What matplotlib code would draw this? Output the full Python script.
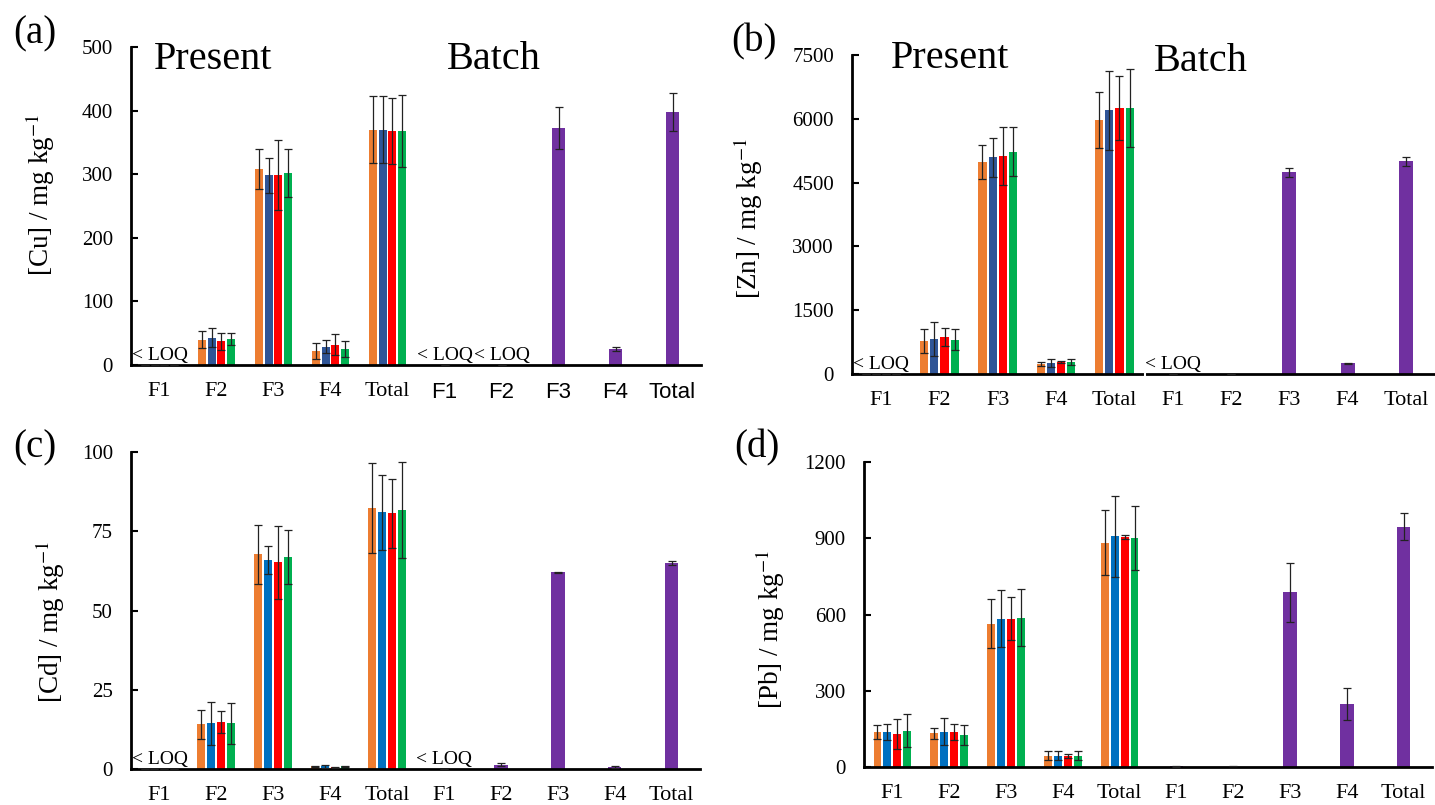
import numpy as np
import matplotlib.pyplot as plt

plt.rcParams['font.family'] = ['Liberation Serif', 'DejaVu Serif']
plt.rcParams['mathtext.fontset'] = 'stix'

# Categorias
categories = ['F1', 'F2', 'F3', 'F4', 'Total']

# Cores das séries (Present) e do Batch
colors_ab = ['#ED7D31', '#2F5597', '#FF0000', '#00B050']
colors_cd = ['#ED7D31', '#0070C0', '#FF0000', '#00B050']
batch_color = '#7030A0'

# --- (a) Cu ---
cu_present = [[0, 40, 308, 22, 370],
              [0, 43, 298, 29, 370],
              [0, 37, 298, 32, 368],
              [0, 41, 302, 25, 368]]
cu_present_err = [[0, 14, 32, 12, 53],
                  [0, 15, 28, 10, 53],
                  [0, 13, 55, 17, 52],
                  [0, 10, 38, 13, 56]]
cu_batch = [0, 0, 373, 25, 398]
cu_batch_err = [0, 0, 33, 3, 30]

# --- (b) Zn ---
zn_present = [[0, 772, 4982, 234, 5972],
              [0, 834, 5091, 265, 6198],
              [0, 873, 5122, 281, 6260],
              [0, 803, 5231, 273, 6260]]
zn_present_err = [[0, 280, 400, 40, 650],
                  [0, 400, 460, 90, 930],
                  [0, 210, 690, 30, 750],
                  [0, 250, 580, 70, 920]]
zn_batch = [0, 0, 4740, 250, 4997]
zn_batch_err = [0, 0, 100, 20, 110]

# --- (c) Cd ---
cd_present = [[0, 14.1, 67.8, 0.8, 82.4],
              [0, 14.4, 65.9, 0.8, 81.0],
              [0, 14.8, 65.2, 0.5, 80.6],
              [0, 14.4, 66.8, 0.8, 81.7]]
cd_present_err = [[0, 4.5, 9.3, 0.3, 14.2],
                  [0, 6.7, 4.3, 0.5, 11.9],
                  [0, 3.4, 11.6, 0.2, 11.0],
                  [0, 6.4, 8.5, 0.3, 15.2]]
cd_batch = [0, 1.4, 62.0, 0.5, 64.9]
cd_batch_err = [0, 0.5, 0.2, 0.3, 0.6]

# --- (d) Pb ---
pb_present = [[138, 132, 564, 45, 883],
              [138, 138, 584, 45, 908],
              [129, 138, 584, 45, 904],
              [143, 126, 588, 45, 902]]
pb_present_err = [[27, 20, 96, 18, 128],
                  [31, 53, 112, 16, 160],
                  [60, 31, 84, 8, 8],
                  [66, 39, 112, 16, 125]]
pb_batch = [2, 1, 687, 249, 946]
pb_batch_err = [2, 3, 116, 63, 52]


def draw_panel(ax, present, present_err, batch, batch_err, colors, ymax, ystep,
               ylabel, label_xy, loq_present, loq_batch, batch_sans=False, titles=False):
    n = len(categories)
    x_present = np.arange(n)
    x_batch = np.arange(n) + n
    step = 0.175
    for k in range(4):
        ax.bar(x_present + (k - 1.5) * step, present[k], width=0.14,
               color=colors[k], zorder=2)
        ax.errorbar(x_present + (k - 1.5) * step, present[k], yerr=present_err[k],
                    fmt='none', ecolor='#222222', elinewidth=0.9, capsize=3,
                    capthick=0.9, zorder=3)
    ax.bar(x_batch, batch, width=0.24, color=batch_color, zorder=2)
    ax.errorbar(x_batch, batch, yerr=batch_err, fmt='none', ecolor='#222222',
                elinewidth=0.9, capsize=3, capthick=0.9, zorder=3)

    ax.set_xlim(-0.5, 2 * n - 0.5)
    ax.set_ylim(0, ymax)
    ticks = np.arange(0, ymax + 1e-9, ystep)
    ax.set_yticks(ticks)
    ax.set_yticklabels([f'{v:g}' for v in ticks])
    ax.set_xticks(np.arange(2 * n))
    ax.set_xticklabels(categories + categories)
    ax.tick_params(axis='y', direction='in', length=5, width=1.5, labelsize=15, pad=13)
    ax.tick_params(axis='x', length=0, labelsize=16, pad=12)
    if batch_sans:
        for lab in ax.get_xticklabels()[n:]:
            lab.set_family(['Liberation Sans', 'DejaVu Sans'])
    for s in ['top', 'right']:
        ax.spines[s].set_visible(False)
    for s in ['left', 'bottom']:
        ax.spines[s].set_linewidth(2)
    ax.set_ylabel(ylabel, fontsize=19.5)
    ax.yaxis.set_label_coords(*label_xy)

    for i in loq_present:
        ax.text(i, ymax * 0.004, '< LOQ', ha='center', va='bottom', fontsize=14)
    for i in loq_batch:
        ax.text(i + n, ymax * 0.004, '< LOQ', ha='center', va='bottom', fontsize=14)

    if titles:
        ax.text(titles[0][0], titles[0][1], 'Present', transform=ax.transAxes,
                fontsize=29, va='center')
        ax.text(titles[1][0], titles[1][1], 'Batch', transform=ax.transAxes,
                fontsize=29, va='center')


fig = plt.figure(figsize=(14.35, 8.05), dpi=100)
W, H = 1435, 805


def add_ax(left, right, bottom, top):
    return fig.add_axes([left / W, 1 - bottom / H, (right - left) / W, (bottom - top) / H])


ax_a = add_ax(131, 701, 365, 47)
ax_b = add_ax(852, 1435, 374, 55)
ax_c = add_ax(131, 700, 769, 452)
ax_d = add_ax(864, 1432, 767, 462)

draw_panel(ax_a, cu_present, cu_present_err, cu_batch, cu_batch_err, colors_ab,
           500, 100, '[Cu] / mg kg$^{-1}$', (-0.130, 0.535), [0], [0, 1], batch_sans=True,
           titles=((0.04, 0.96), (0.555, 0.96)))
draw_panel(ax_b, zn_present, zn_present_err, zn_batch, zn_batch_err, colors_ab,
           7500, 1500, '[Zn] / mg kg$^{-1}$', (-0.149, 0.486), [0], [0],
           titles=((0.066, 0.99), (0.518, 0.98)))
draw_panel(ax_c, cd_present, cd_present_err, cd_batch, cd_batch_err, colors_cd,
           100, 25, '[Cd] / mg kg$^{-1}$', (-0.112, 0.464), [0], [0])
draw_panel(ax_d, pb_present, pb_present_err, pb_batch, pb_batch_err, colors_cd,
           1200, 300, '[Pb] / mg kg$^{-1}$', (-0.136, 0.452), [], [])

# pequena quebra no eixo x do painel (b)
ax_b.axvline(4.52, ymin=-0.01, ymax=0.012, color='white', lw=1.5, clip_on=False, zorder=5)

# Rótulos dos painéis
for label, (px, py) in zip(['(a)', '(b)', '(c)', '(d)'],
                           [(13, 34), (731, 42), (13, 448), (734, 448)]):
    fig.text(px / W, 1 - py / H, label, fontsize=28, va='center', ha='left')

fig.savefig('out.png', dpi=100)
